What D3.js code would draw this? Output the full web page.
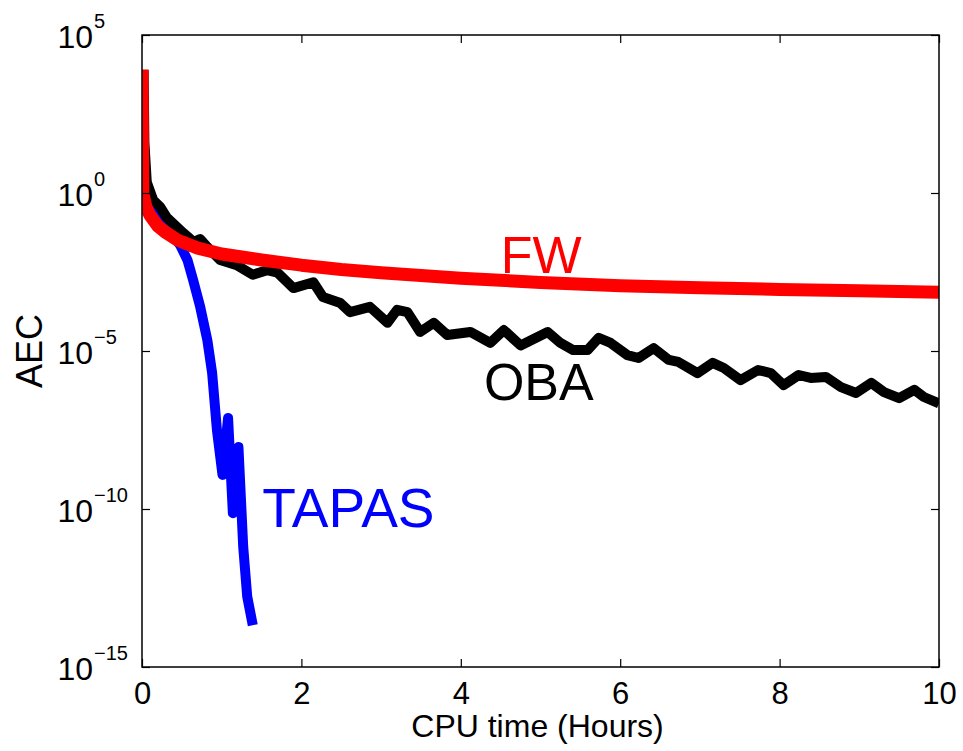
<!DOCTYPE html>
<html>
<head>
<meta charset="utf-8">
<script src="https://cdn.jsdelivr.net/npm/d3@7"></script>
<style>
  html, body { margin: 0; padding: 0; background: #fff; }
  svg { display: block; font-family: "Liberation Sans", Arial, Helvetica, sans-serif; }
</style>
</head>
<body>
<div id="chart"></div>
<script>
// CPU time (hours) and AEC
const fwHours = [0, 0.01, 0.05, 0.1, 0.2, 0.3, 0.45, 0.7, 1.0, 1.5, 2.0, 2.5, 3.0, 4.0, 5.0, 6.0, 7.0, 8.0, 9.0, 10];
const fwAec = [7.9e3, 1.0, 0.355, 0.2, 0.089, 0.056, 0.032, 0.018, 0.0117, 0.0076, 0.0052, 0.0038, 0.003,
  0.002, 0.00148, 0.00117, 0.001, 0.00089, 0.00081, 0.00072];

const obaHours = [0.02, 0.03, 0.06, 0.14, 0.23, 0.31, 0.39, 0.52, 0.65, 0.73, 0.82, 0.98, 1.19, 1.39, 1.57,
  1.7, 1.9, 2.15, 2.27, 2.49, 2.61, 2.86, 3.08, 3.2, 3.33, 3.49, 3.66, 3.83, 4.12, 4.37, 4.54, 4.75, 5.09,
  5.25, 5.41, 5.59, 5.73, 5.88, 6.09, 6.23, 6.42, 6.61, 6.73, 6.97, 7.16, 7.3, 7.51, 7.73, 7.89, 8.05,
  8.24, 8.39, 8.58, 8.77, 8.96, 9.15, 9.31, 9.5, 9.69, 9.81, 10];
const obaAec = [7.9e3, 40, 2.2, 0.6, 0.36, 0.17, 0.11, 0.054, 0.028, 0.035, 0.0195, 0.0076, 0.0052, 0.0026,
  0.0036, 0.003, 9.8e-4, 1.5e-3, 5.1e-4, 3.3e-4, 1.7e-4, 2.5e-4, 7.8e-5, 2.0e-4, 1.7e-4, 4.0e-5, 7.8e-5,
  3.2e-5, 4.0e-5, 1.8e-5, 4.6e-5, 1.5e-5, 4.0e-5, 1.8e-5, 1.07e-5, 1.07e-5, 2.6e-5, 1.8e-5, 7.4e-6,
  6.0e-6, 1.23e-5, 5.2e-6, 4.5e-6, 2.0e-6, 4.2e-6, 2.9e-6, 1.2e-6, 2.5e-6, 2.0e-6, 8.3e-7, 1.74e-6,
  1.41e-6, 1.51e-6, 7.2e-7, 4.7e-7, 9.8e-7, 5.0e-7, 3.2e-7, 5.9e-7, 3.5e-7, 2.2e-7];

const tapasHours = [0, 0.14, 0.31, 0.48, 0.57, 0.64, 0.73, 0.82, 0.88, 0.94, 1.01, 1.08, 1.14, 1.21, 1.27, 1.32, 1.39];
const tapasAec = [1.6, 0.29, 0.083, 0.022, 0.0076, 1.8e-3, 2.5e-4, 2.2e-5, 2.0e-6, 3.2e-8, 1.2e-9, 7.6e-8,
  7.4e-11, 9.1e-9, 6.3e-12, 1.7e-13, 2.1e-14];

const xTicks = [0, 2, 4, 6, 8, 10];
const yTicks = [1e5, 1e0, 1e-5, 1e-10, 1e-15];
const yTickExp = ['5', '0', '\u22125', '\u221210', '\u221215'];

const width = 963;
const height = 751;
const margin = { top: 35, right: 24, bottom: 84, left: 142 };

const svg = d3
  .select('#chart')
  .append('svg')
  .attr('width', width)
  .attr('height', height);

const x = d3.scaleLinear().domain([0, 10]).range([margin.left, width - margin.right]);
const y = d3.scaleLog().domain([1e-15, 1e5]).range([height - margin.bottom, margin.top]);

const [x0, x1] = x.range();
const [y0, y1] = y.range();

svg
  .append('defs')
  .append('clipPath')
  .attr('id', 'plotClip')
  .append('rect')
  .attr('x', x0)
  .attr('y', y1)
  .attr('width', x1 - x0)
  .attr('height', y0 - y1);

// series, drawn in plotting order
const series = [
  { name: 'TAPAS', hours: tapasHours, aec: tapasAec, color: '#0000ff', width: 10 },
  { name: 'OBA', hours: obaHours, aec: obaAec, color: '#000000', width: 10 },
  { name: 'FW', hours: fwHours, aec: fwAec, color: '#ff0000', width: 13 },
];

const line = d3
  .line()
  .x((d) => x(d[0]))
  .y((d) => y(d[1]));

const lines = svg.append('g').attr('clip-path', 'url(#plotClip)');
series.forEach((s) => {
  lines
    .append('path')
    .datum(d3.zip(s.hours, s.aec))
    .attr('fill', 'none')
    .attr('stroke', s.color)
    .attr('stroke-width', s.width)
    .attr('stroke-linejoin', 'round')
    .attr('d', line);
});

// box
svg
  .append('rect')
  .attr('x', x0)
  .attr('y', y1)
  .attr('width', x1 - x0)
  .attr('height', y0 - y1)
  .attr('fill', 'none')
  .attr('stroke', '#000')
  .attr('stroke-width', 1.5);

const tick = 8;

// x axis (bottom + top ticks)
const xAxis = svg
  .append('g')
  .attr('transform', `translate(0,${y0})`)
  .call(d3.axisBottom(x).tickValues(xTicks).tickSize(-tick).tickFormat(d3.format('d')));
xAxis.select('.domain').remove();
xAxis.selectAll('.tick text').attr('y', 37).attr('dy', null).attr('font-size', 31).attr('fill', '#000');

svg
  .append('g')
  .attr('transform', `translate(0,${y1})`)
  .call(d3.axisTop(x).tickValues(xTicks).tickSize(-tick).tickFormat(''))
  .select('.domain')
  .remove();

// y axis (left + right ticks), labels as 10 with exponent
const yAxis = svg
  .append('g')
  .attr('transform', `translate(${x0},0)`)
  .call(d3.axisLeft(y).tickValues(yTicks).tickSize(-tick).tickFormat(''));
yAxis.select('.domain').remove();
yAxis.selectAll('.tick').each(function (d, i) {
  const g = d3.select(this);
  g.select('text').remove();
  g.append('text')
    .attr('x', -49)
    .attr('y', 12)
    .attr('text-anchor', 'end')
    .attr('font-size', 32)
    .attr('fill', '#000')
    .text('10');
  g.append('text')
    .attr('x', -48)
    .attr('y', -8)
    .attr('text-anchor', 'start')
    .attr('font-size', 20)
    .attr('fill', '#000')
    .text(yTickExp[i]);
});

svg
  .append('g')
  .attr('transform', `translate(${x1},0)`)
  .call(d3.axisRight(y).tickValues(yTicks).tickSize(-tick).tickFormat(''))
  .select('.domain')
  .remove();

svg.selectAll('.tick line').attr('stroke', '#000').attr('stroke-width', 1.2);

// axis titles
svg
  .append('text')
  .attr('x', (x0 + x1) / 2 - 3)
  .attr('y', 737)
  .attr('text-anchor', 'middle')
  .attr('font-size', 32)
  .text('CPU time (Hours)');

svg
  .append('text')
  .attr('transform', `translate(42,${(y0 + y1) / 2}) rotate(-90)`)
  .attr('text-anchor', 'middle')
  .attr('font-size', 36)
  .text('AEC');

// in-plot labels
const labels = [
  { text: 'FW', h: 4.5, v: 2.95e-3, color: '#ff0000', size: 52 },
  { text: 'OBA', h: 4.29, v: 2.8e-7, color: '#000000', size: 52 },
  { text: 'TAPAS', h: 1.51, v: 2.7e-11, color: '#0000ff', size: 55 },
];
svg
  .append('g')
  .selectAll('text')
  .data(labels)
  .join('text')
  .attr('x', (d) => x(d.h))
  .attr('y', (d) => y(d.v))
  .attr('font-size', (d) => d.size)
  .attr('fill', (d) => d.color)
  .text((d) => d.text);
</script>
</body>
</html>
